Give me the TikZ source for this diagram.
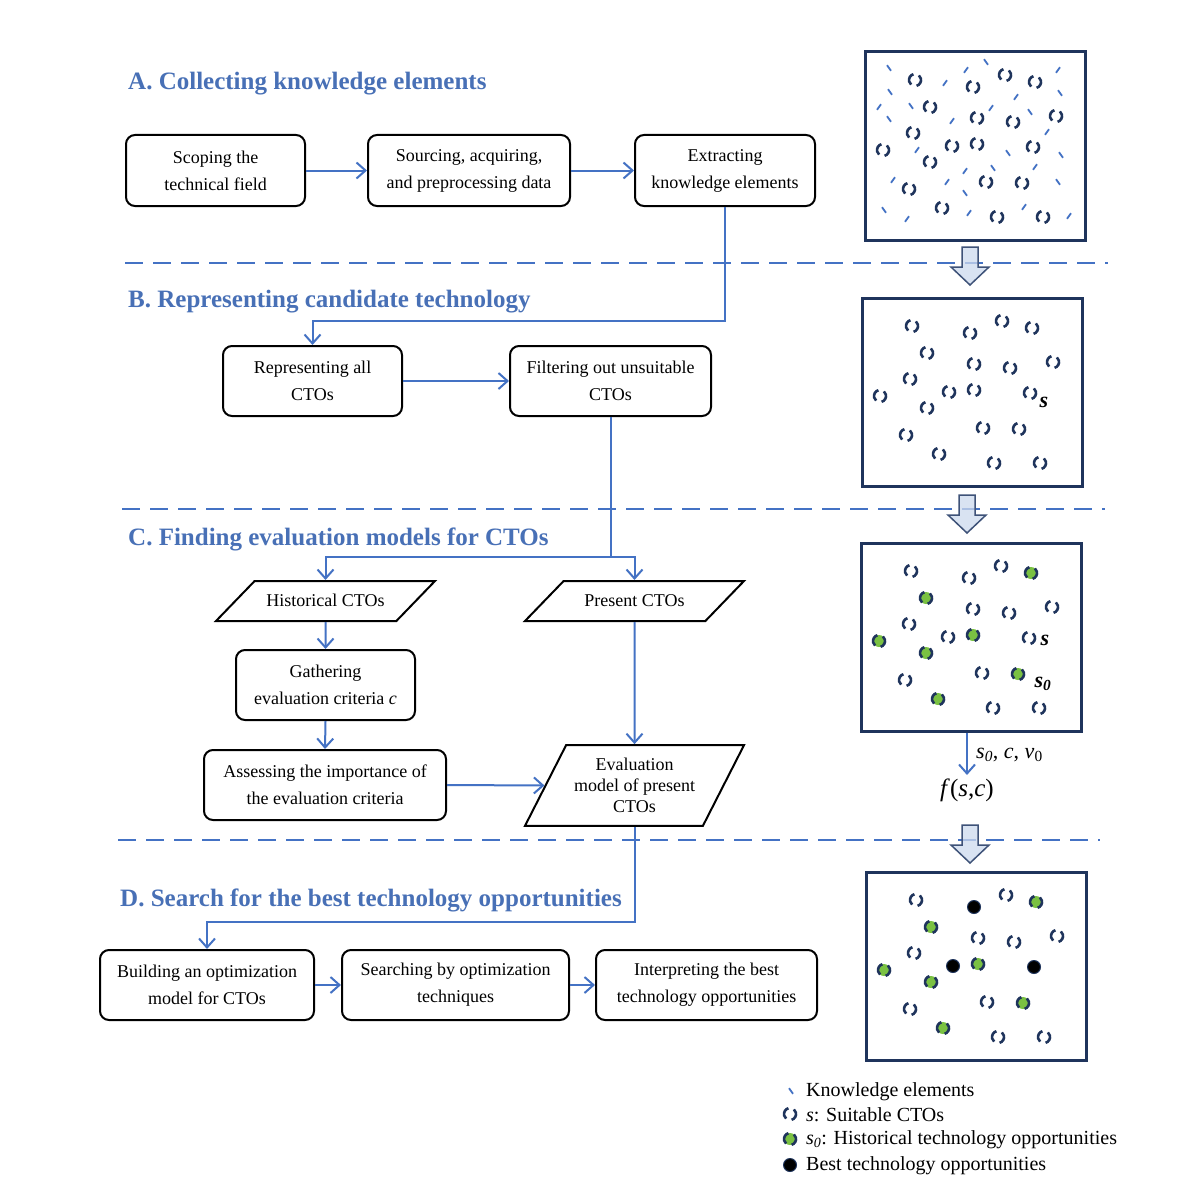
\documentclass[tikz,border=0pt]{standalone}
\usepackage{fontspec}
\setmainfont{Liberation Serif}
\usetikzlibrary{shapes.geometric,arrows.meta}

\definecolor{flowblue}{RGB}{68,114,196}
\definecolor{headblue}{RGB}{72,112,182}
\definecolor{navy}{RGB}{31,52,92}
\definecolor{ctogreen}{RGB}{122,193,66}
\definecolor{arrowfill}{RGB}{205,218,238}
\definecolor{arrowedge}{RGB}{62,82,120}

\tikzstyle{stepbox}=[draw=black, line width=2pt, rounded corners=9pt, align=center, inner sep=0pt, font=\fontsize{18}{27}\selectfont]
\tikzstyle{databox}=[trapezium, draw=black, line width=2pt, trapezium stretches body, align=center, inner xsep=0pt, font=\fontsize{18}{27}\selectfont]
\tikzstyle{flow}=[draw=flowblue, line width=2pt, -{Straight Barb[length=9pt,width=16pt]}]
\tikzstyle{seppath}=[draw=flowblue, line width=2pt, dash pattern=on 18pt off 10pt]
\tikzstyle{heading}=[anchor=west, text=headblue, inner sep=0pt, font=\fontsize{25}{30}\selectfont\bfseries]
\tikzstyle{panel}=[draw=navy, line width=3pt, minimum width=220pt, minimum height=188pt, inner sep=0pt]
\tikzstyle{ctoline}=[draw=navy, line width=2.6pt]
\tikzstyle{keline}=[draw=flowblue, line width=1.8pt]
\tikzstyle{legend}=[anchor=west, inner sep=0pt, font=\fontsize{20}{24}\selectfont]

\newcommand{\ctoarcs}{%
  \draw[ctoline] (105:6pt) arc[start angle=105, end angle=230, radius=6pt];
  \draw[ctoline] (-75:6pt) arc[start angle=-75, end angle=50, radius=6pt];}
\newcommand{\hollowdown}[2]{%
  \filldraw[fill=arrowfill, draw=arrowedge, line width=1.5pt, fill opacity=0.75]
    (#1-8,#2) -- (#1+8,#2) -- (#1+8,#2+20) -- (#1+19,#2+20) -- (#1,#2+38)
    -- (#1-19,#2+20) -- (#1-8,#2+20) -- cycle;}

\newcommand{\ctobase}{50/28,140/23,112/66,148/70,191/64,48/81,44/137,121/130,132/165,178/165}
\newcommand{\ctobest}{108/35,87/94,168/95}
\newcommand{\ctohist}{170/30,65/55,18/98,112/92,65/110,157/131,77/156}
\newcommand{\keback}{24/16,121/10,25/40,195/41,46/54,165/60,24/67,143/101,196/103,128/116,100/141,193/130,19/158}
\newcommand{\kefwd}{101/18,193/18,80/31,151/45,14/55,126/56,87/69,182/80,52/98,28/128,82/130,100/119,170/115,42/167,104/161,159/155,204/164}

\tikzset{
  cto/.pic={\ctoarcs},
  histdot/.pic={\fill[ctogreen] (0,0) circle[radius=6pt]; \ctoarcs},
  bestdot/.pic={\filldraw[fill=black, draw=navy, line width=1pt] (0,0) circle[radius=6.5pt];},
  kback/.pic={\draw[keline] (-2pt,2.8pt) -- (2pt,-2.8pt);},
  kfwd/.pic={\draw[keline] (-2pt,-2.8pt) -- (2pt,2.8pt);}
}

\begin{document}
\begin{tikzpicture}[x=1pt, y=-1pt]
\fill[white] (0,0) rectangle (1198,1204);
\useasboundingbox (0,0) rectangle (1198,1204);

\node[heading] (headA) at (128,84) {A. Collecting knowledge elements};
\node[heading] (headB) at (128,302) {B. Representing candidate technology};
\node[heading] (headC) at (128,539) {C. Finding evaluation models for CTOs};
\node[heading] (headD) at (120,900) {D. Search for the best technology opportunities};

\draw[seppath] (125,263) -- (1108,263);
\draw[seppath] (122,509) -- (1105,509);
\draw[seppath] (118,840) -- (1100,840);

\node[stepbox, minimum width=179pt, minimum height=71pt] (scoping) at (215.5,170.5) {Scoping the\\technical field};
\node[stepbox, minimum width=202pt, minimum height=71pt] (sourcing) at (469,170.5) {Sourcing, acquiring,\\and preprocessing data};
\node[stepbox, minimum width=180pt, minimum height=71pt] (extracting) at (725,170.5) {Extracting\\knowledge elements};

\node[stepbox, minimum width=179pt, minimum height=70pt] (representing) at (312.5,381) {Representing all\\CTOs};
\node[stepbox, minimum width=201pt, minimum height=70pt] (filtering) at (610.5,381) {Filtering out unsuitable\\CTOs};

\node[databox, trapezium left angle=46, trapezium right angle=134, minimum width=219pt, text height=25pt, text depth=15pt, inner ysep=0pt] (historical) at (325.5,601) {Historical CTOs};
\node[databox, trapezium left angle=46, trapezium right angle=134, minimum width=219pt, text height=25pt, text depth=15pt, inner ysep=0pt] (present) at (634.5,601) {Present CTOs};
\node[stepbox, minimum width=179pt, minimum height=70pt] (gathering) at (325.5,685) {Gathering\\evaluation criteria \textit{c}};
\node[stepbox, minimum width=242pt, minimum height=70pt] (assessing) at (325,785) {Assessing the importance of\\the evaluation criteria};
\node[databox, trapezium left angle=63, trapezium right angle=117, minimum width=219pt, inner ysep=13pt, font=\fontsize{18}{21}\selectfont] (evalmodel) at (634.5,785.5) {Evaluation\\model of present\\CTOs};

\node[stepbox, minimum width=214pt, minimum height=70pt] (building) at (207,985) {Building an optimization\\model for CTOs};
\node[stepbox, minimum width=227pt, minimum height=70pt] (searching) at (455.5,985) {Searching by optimization\\techniques};
\node[stepbox, minimum width=221pt, minimum height=70pt] (interpreting) at (706.5,985) {Interpreting the best\\technology opportunities};

\coordinate (joinB) at (0,321);
\coordinate (joinC) at (0,557);
\coordinate (joinD) at (0,922);

\draw[flow] (scoping) -- (sourcing);
\draw[flow] (sourcing) -- (extracting);
\draw[flow] (extracting.south) |- (representing.north |- joinB) -- (representing.north);
\draw[flow] (representing) -- (filtering);
\draw[flow] (filtering.south) |- (historical.north |- joinC) -- (historical.north);
\draw[flow] (filtering.south) |- (present.north |- joinC) -- (present.north);
\draw[flow] (historical.south) -- (gathering.north);
\draw[flow] (gathering.south) -- (assessing.north);
\draw[flow] (present.south) -- (evalmodel.north);
\draw[flow] (assessing.east) -- (evalmodel.west);
\draw[flow] (evalmodel.south) |- (building.north |- joinD) -- (building.north);
\draw[flow] (building) -- (searching);
\draw[flow] (searching) -- (interpreting);

\node[panel] (panelA) at (975,146) {};
\node[panel] (panelB) at (972,392) {};
\node[panel] (panelC) at (971,637) {};
\node[panel] (panelD) at (976,966) {};

\begin{scope}[shift={(865,52)}]
  \foreach \px/\py in \keback {\pic at (\px,\py) {kback};}
  \foreach \px/\py in \kefwd {\pic at (\px,\py) {kfwd};}
  \foreach \px/\py in \ctobase {\pic at (\px,\py) {cto};}
  \foreach \px/\py in \ctobest {\pic at (\px,\py) {cto};}
  \foreach \px/\py in \ctohist {\pic at (\px,\py) {cto};}
\end{scope}
\begin{scope}[shift={(862,298)}]
  \foreach \px/\py in \ctobase {\pic at (\px,\py) {cto};}
  \foreach \px/\py in \ctobest {\pic at (\px,\py) {cto};}
  \foreach \px/\py in \ctohist {\pic at (\px,\py) {cto};}
  \node[font=\fontsize{22}{24}\selectfont\bfseries\itshape] (labelsB) at (182,104) {s};
\end{scope}
\begin{scope}[shift={(861,543)}]
  \foreach \px/\py in \ctobase {\pic at (\px,\py) {cto};}
  \foreach \px/\py in \ctobest {\pic at (\px,\py) {cto};}
  \foreach \px/\py in \ctohist {\pic at (\px,\py) {histdot};}
  \node[font=\fontsize{22}{24}\selectfont\bfseries\itshape] (labelsC) at (184,97) {s};
  \node[font=\fontsize{22}{24}\selectfont\bfseries\itshape] (labelszero) at (182,141) {s\textsubscript{0}};
\end{scope}
\begin{scope}[shift={(866,872)}]
  \foreach \px/\py in \ctobase {\pic at (\px,\py) {cto};}
  \foreach \px/\py in \ctobest {\pic at (\px,\py) {bestdot};}
  \foreach \px/\py in \ctohist {\pic at (\px,\py) {histdot};}
\end{scope}

\hollowdown{970}{247}
\hollowdown{967}{495}
\hollowdown{970}{825}

\node[font=\fontsize{25}{28}\selectfont] (fsc) at (967,790) {\textit{f}(\textit{s},\textit{c})};
\draw[flow] (panelC.south -| fsc) -- (fsc.north);
\node[anchor=west, inner sep=0pt, font=\fontsize{22}{24}\selectfont] (params) at (976,755) {\textit{s}\textsubscript{\textit{0}}, \textit{c}, \textit{v}\textsubscript{0}};

\pic at (791,1091) {kback};
\node[legend] (legke) at (806,1092) {Knowledge elements};
\pic at (790,1114) {cto};
\node[legend] (legcto) at (806,1115) {\textit{s}: Suitable CTOs};
\pic at (790,1139) {histdot};
\node[legend] (leghist) at (806,1140) {\textit{s}\textsubscript{\textit{0}}: Historical technology opportunities};
\pic at (790,1165) {bestdot};
\node[legend] (legbest) at (806,1166) {Best technology opportunities};
\end{tikzpicture}
\end{document}
